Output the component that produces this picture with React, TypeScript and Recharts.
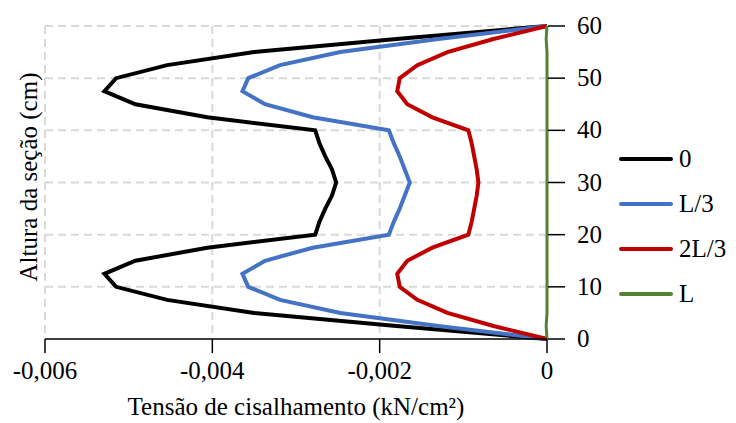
import React from "react";
import {
  LineChart,
  Line,
  XAxis,
  YAxis,
  CartesianGrid,
  Legend,
  Label,
} from "recharts";

// altura da seção (cm)
const alturas = [
  0, 2.5, 5, 7.5, 10, 12.5, 15, 17.5, 20, 22.5, 25, 27.5, 30, 32.5, 35, 37.5,
  40, 42.5, 45, 47.5, 50, 52.5, 55, 57.5, 60,
];

// tensão de cisalhamento (kN/cm²) em cada seção
const secao0 = [
  0, -0.0018, -0.0035, -0.00454, -0.00515, -0.00529, -0.00492, -0.00406,
  -0.00277, -0.00272, -0.00265, -0.00257, -0.00252, -0.00257, -0.00265,
  -0.00272, -0.00277, -0.00406, -0.00492, -0.00529, -0.00515, -0.00454,
  -0.0035, -0.0018, 0,
];
const secaoL3 = [
  0, -0.0013, -0.00247, -0.00319, -0.00357, -0.00364, -0.00337, -0.0028,
  -0.00189, -0.00183, -0.00176, -0.0017, -0.00164, -0.0017, -0.00176,
  -0.00183, -0.00189, -0.0028, -0.00337, -0.00364, -0.00357, -0.00319,
  -0.00247, -0.0013, 0,
];
const secao2L3 = [
  0, -0.00064, -0.00119, -0.00155, -0.00176, -0.00179, -0.00167, -0.00137,
  -0.00094, -0.0009, -0.00087, -0.00084, -0.00082, -0.00084, -0.00087,
  -0.0009, -0.00094, -0.00137, -0.00167, -0.00179, -0.00176, -0.00155,
  -0.00119, -0.00064, 0,
];
const secaoL = [
  0, -0.00001, 0, 0, 0, 0, 0, 0, 0, 0, 0, 0, 0, 0, 0, 0, 0, 0, 0, 0, 0, 0, 0,
  -0.00001, 0,
];

const xTicks = [-0.006, -0.004, -0.002, 0];
const yTicks = [0, 10, 20, 30, 40, 50, 60];

const series = [
  { key: "s0", name: "0", color: "#000000", width: 4 },
  { key: "sL3", name: "L/3", color: "#4472C4", width: 4 },
  { key: "s2L3", name: "2L/3", color: "#C00000", width: 4 },
  { key: "sL", name: "L", color: "#548235", width: 3 },
];

const data = alturas.map((h, i) => ({
  h,
  s0: secao0[i],
  sL3: secaoL3[i],
  s2L3: secao2L3[i],
  sL: secaoL[i],
}));

const FONT = "'Liberation Serif', 'Times New Roman', serif";

const fmtX = (v: number) => (v === 0 ? "0" : v.toFixed(3).replace(".", ","));

// tick que cruza o eixo (para dentro e para fora)
const XTick = (props: any) => {
  const { x, y, payload } = props;
  return (
    <g>
      <line x1={x} x2={x} y1={y - 8} y2={y + 6} stroke="#000" strokeWidth={1.5} />
      <text
        x={x}
        y={y + 32}
        textAnchor="middle"
        fontFamily={FONT}
        fontSize={25}
        fill="#000"
      >
        {fmtX(payload.value)}
      </text>
    </g>
  );
};

const YTick = (props: any) => {
  const { x, y, payload } = props;
  return (
    <g>
      <line x1={x - 7} x2={x + 10} y1={y} y2={y} stroke="#000" strokeWidth={1.5} />
      <text
        x={x + 22}
        y={y + 8}
        textAnchor="start"
        fontFamily={FONT}
        fontSize={25}
        fill="#000"
      >
        {payload.value}
      </text>
    </g>
  );
};

const Legenda = () => (
  <div style={{ fontFamily: FONT, fontSize: 25, color: "#000" }}>
    {series.map((s) => (
      <div
        key={s.key}
        style={{ display: "flex", alignItems: "center", height: 45 }}
      >
        <svg width={58} height={10} style={{ marginRight: 4 }}>
          <line
            x1={4}
            x2={54}
            y1={5}
            y2={5}
            stroke={s.color}
            strokeWidth={4}
            strokeLinecap="round"
          />
        </svg>
        <span>{s.name}</span>
      </div>
    ))}
  </div>
);

export default function App() {
  return (
    <div style={{ position: "absolute", left: 0, top: 0, background: "#fff" }}>
      <LineChart
        width={736}
        height={423}
        data={data}
        layout="vertical"
        margin={{ top: 26, right: 0, bottom: 0, left: 45 }}
      >
        <CartesianGrid
          stroke="#d9d9d9"
          strokeWidth={2}
          strokeDasharray="8 5"
          verticalValues={[-0.006, -0.004, -0.002]}
          horizontalValues={[10, 20, 30, 40, 50, 60]}
        />
        <XAxis
          type="number"
          domain={[-0.006, 0]}
          ticks={xTicks}
          height={84}
          axisLine={{ stroke: "#000", strokeWidth: 1.5 }}
          tickLine={false}
          tick={<XTick />}
          interval={0}
        >
          <Label
            content={() => (
              <text
                x={296}
                y={415}
                textAnchor="middle"
                fontFamily={FONT}
                fontSize={25}
                fill="#000"
              >
                Tensão de cisalhamento (kN/cm²)
              </text>
            )}
          />
        </XAxis>
        <YAxis
          type="number"
          dataKey="h"
          orientation="right"
          reversed
          domain={[0, 60]}
          ticks={yTicks}
          width={70}
          axisLine={false}
          tickLine={false}
          tick={<YTick />}
          interval={0}
        >
          <Label
            content={() => (
              <text
                x={37}
                y={177}
                textAnchor="middle"
                fontFamily={FONT}
                fontSize={25}
                fill="#000"
                transform="rotate(-90 37 177)"
              >
                Altura da seção (cm)
              </text>
            )}
          />
        </YAxis>
        <Legend
          layout="vertical"
          align="right"
          verticalAlign="middle"
          width={119}
          wrapperStyle={{ left: 617, top: 136, width: 119 }}
          content={<Legenda />}
        />
        {series.map((s) => (
          <Line
            key={s.key}
            dataKey={s.key}
            name={s.name}
            stroke={s.color}
            strokeWidth={s.width}
            dot={false}
            activeDot={false}
            isAnimationActive={false}
          />
        ))}
      </LineChart>
    </div>
  );
}
